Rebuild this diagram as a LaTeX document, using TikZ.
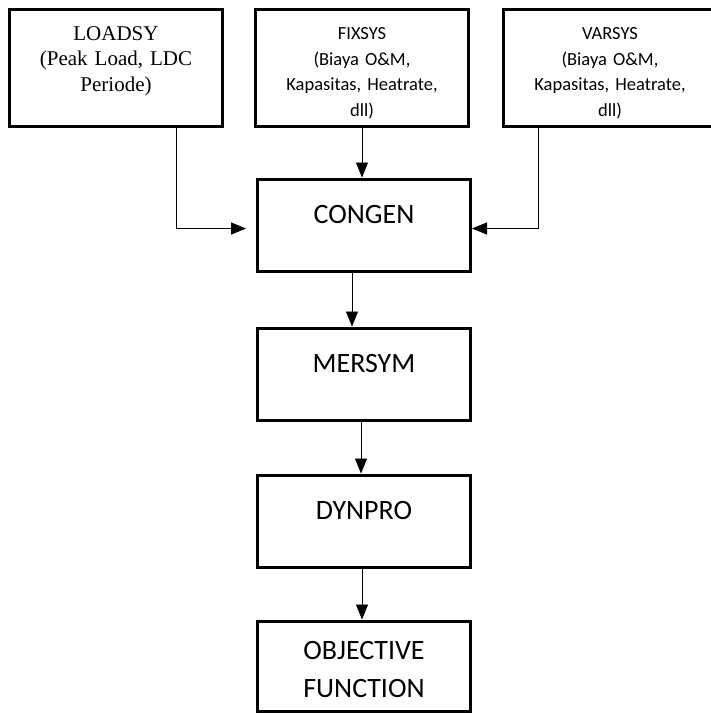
\documentclass[tikz,border=0pt]{standalone}
\usepackage{fontspec}
\setmainfont{Carlito}
\newfontfamily\timesfont{Liberation Serif}
\usetikzlibrary{arrows.meta}

\begin{document}
\begin{tikzpicture}[x=1pt,y=-1pt,
        kotak/.style={draw, line width=3pt, inner sep=0pt, text width=213pt, align=center, anchor=north},
        masukan/.style={kotak, text height=30.5pt, text depth=86.5pt, font=\fontsize{18.5}{25.5}\selectfont},
        modul/.style={kotak, text height=44.5pt, text depth=47.5pt, font=\fontsize{28}{38}\selectfont},
        panah/.style={line width=0.9pt, -{Triangle[length=15pt,width=12pt]}}]
        \useasboundingbox (0,0) rectangle (711,713);
        \node[kotak, text height=31pt, text depth=86pt, font=\timesfont\fontsize{21}{25.5}\selectfont] (loadsy) at (116,7.5) {LOADSY\\(Peak Load, LDC\\Periode)};
        \node[masukan] (fixsys) at (362,7.5) {FIXSYS\\(Biaya O\&M,\\Kapasitas, Heatrate,\\dll)};
        \node[masukan] (varsys) at (610,7.5) {VARSYS\\(Biaya O\&M,\\Kapasitas, Heatrate,\\dll)};
        \node[modul] (congen) at (364,177.5) {CONGEN};
        \node[modul] (mersym) at (364,326.5) {MERSYM};
        \node[modul] (dynpro) at (364,473.5) {DYNPRO};
        \node[modul, text height=38.5pt, text depth=52pt] (objfn) at (364,619.5) {OBJECTIVE\\FUNCTION};
        \draw[panah] ([xshift=60pt]loadsy.south) |- ([xshift=-10pt,yshift=-3.5pt]congen.west);
        \draw[panah] (fixsys.south) -- (fixsys.south |- congen.north);
        \draw[panah] ([xshift=-72pt]varsys.south) |- ([yshift=-3.5pt]congen.east);
        \draw[panah] ([xshift=-12pt]congen.south) -- ([xshift=-12pt]congen.south |- mersym.north);
        \draw[panah] ([xshift=-3pt]mersym.south) -- ([xshift=-3pt]mersym.south |- dynpro.north);
        \draw[panah] ([xshift=-2pt]dynpro.south) -- ([xshift=-2pt]dynpro.south |- objfn.north);
\end{tikzpicture}
\end{document}
